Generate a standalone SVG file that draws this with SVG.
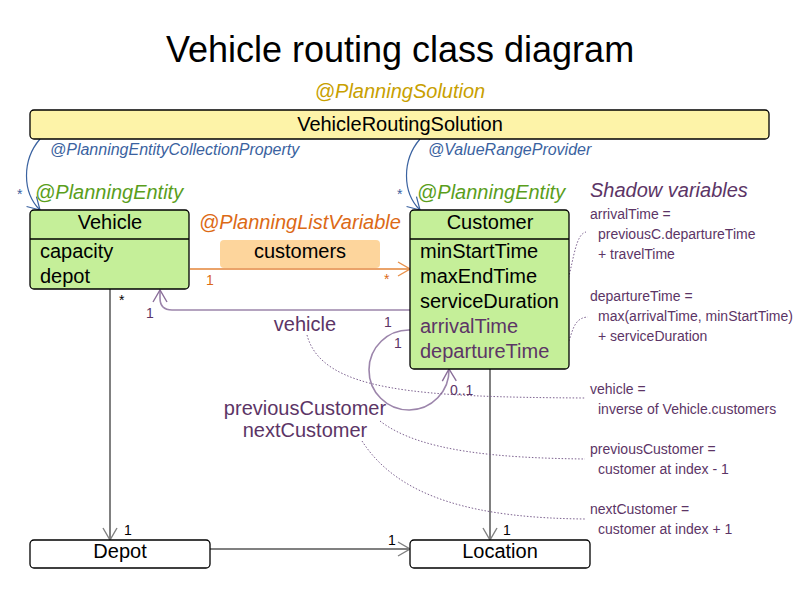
<svg xmlns="http://www.w3.org/2000/svg" width="800" height="600" viewBox="0 0 800 600">
<style>
text{font-family:"Liberation Sans",Arial,sans-serif}
.box{stroke:#000;stroke-width:1.3}
.ent{fill:#c5ef99}
.plain{fill:#fff}
.sol{fill:#fdf3a8}
.t20{font-size:20px;fill:#000}
.mid{text-anchor:middle}
.ann{font-style:italic}
.blue{fill:#3a62a0}
.green{fill:#5a9e1c}
.orange{fill:#dc6a16}
.purple{fill:#5c3566}
.sh{font-size:14px;fill:#5c3566}
.mult{font-size:14px}
.gray{stroke:#808080;stroke-width:2;fill:none}
.bl{stroke:#3a62a0;stroke-width:1.2;fill:none}
.or{stroke:#eaa36a;stroke-width:2;fill:none}
.pu{stroke:#9c85ab;stroke-width:1.6;fill:none}
.dot{stroke:#7d6290;stroke-width:1;fill:none;stroke-dasharray:1.5 1.8}
</style>
<defs>
<marker id="aGray" viewBox="0 0 14 16" refX="13" refY="8" markerWidth="14" markerHeight="16" orient="auto" markerUnits="userSpaceOnUse"><path d="M1,1 L13,8 L1,15" fill="none" stroke="#808080" stroke-width="1.4"/></marker>
<marker id="aBlue" viewBox="0 0 14 16" refX="13" refY="8" markerWidth="14" markerHeight="16" orient="auto" markerUnits="userSpaceOnUse"><path d="M1,1 L13,8 L1,15" fill="none" stroke="#3a62a0" stroke-width="1.2"/></marker>
<marker id="aOr" viewBox="0 0 14 16" refX="13" refY="8" markerWidth="14" markerHeight="16" orient="auto" markerUnits="userSpaceOnUse"><path d="M1,1 L13,8 L1,15" fill="none" stroke="#e8904a" stroke-width="1.4"/></marker>
<marker id="aPu" viewBox="0 0 14 16" refX="13" refY="8" markerWidth="14" markerHeight="16" orient="auto" markerUnits="userSpaceOnUse"><path d="M1,1 L13,8 L1,15" fill="none" stroke="#8a6e99" stroke-width="1.4"/></marker>
</defs>
<rect width="800" height="600" fill="#fff"/>
<text x="400" y="62" class="mid" style="font-size:36px;fill:#000">Vehicle routing class diagram</text>
<text x="400" y="98" class="mid ann" style="font-size:20px;fill:#c8a000">@PlanningSolution</text>

<g id="connectors">
<path class="bl" d="M40,139 C22,160 22,192 40,210" marker-end="url(#aBlue)"/>
<path class="bl" d="M420,139 C402,160 402,192 420,210" marker-end="url(#aBlue)"/>
<path class="or" d="M190,269 L410,269" marker-end="url(#aOr)"/>
<path class="pu" d="M410,310 L172,310 Q160,310 160,298 L160,290" marker-end="url(#aPu)"/>
<path class="pu" d="M410,330 A40,40 0 1 0 449,369" marker-end="url(#aPu)"/>
<path class="gray" d="M110,289 L110,540" marker-end="url(#aGray)"/>
<path class="gray" d="M490,369 L490,540" marker-end="url(#aGray)"/>
<path class="gray" d="M210,549 L410,549" marker-end="url(#aGray)"/>
<path class="dot" d="M524,328 C578,326 566,236 586,232"/>
<path class="dot" d="M555,354 C576,350 566,318 588,317"/>
<path class="dot" d="M307,335 C322,392 420,397 585,398"/>
<path class="dot" d="M380,421 C420,452 500,458 585,459"/>
<path class="dot" d="M362,441 C400,500 480,518 585,519"/>
</g>

<g id="labels">
<text x="50" y="155" class="ann blue" style="font-size:16px">@PlanningEntityCollectionProperty</text>
<text x="428" y="155" class="ann blue" style="font-size:16px">@ValueRangeProvider</text>
<text x="17" y="199" class="blue mult">*</text>
<text x="397" y="199" class="blue mult">*</text>
<text x="35" y="199" class="ann green" style="font-size:20px">@PlanningEntity</text>
<text x="417" y="199" class="ann green" style="font-size:20px">@PlanningEntity</text>
<text x="199" y="229" class="ann orange" style="font-size:20px">@PlanningListVariable</text>
<text x="206" y="285" class="orange mult">1</text>
<text x="384" y="284" class="orange mult">*</text>
<text x="119" y="305" class="mult" style="fill:#000">*</text>
<text x="146" y="318" class="purple mult">1</text>
<text x="384" y="327" class="purple mult">1</text>
<text x="394" y="348" class="purple mult">1</text>
<text x="450" y="395" class="purple mult">0..1</text>
<text x="305" y="331" class="mid purple" style="font-size:20px">vehicle</text>
<text x="305" y="415" class="mid purple" style="font-size:20px">previousCustomer</text>
<text x="305" y="437" class="mid purple" style="font-size:20px">nextCustomer</text>
<text x="124" y="535" class="mult" style="fill:#000">1</text>
<text x="503" y="535" class="mult" style="fill:#000">1</text>
<text x="388" y="545" class="mult" style="fill:#000">1</text>
</g>

<g id="shadow">
<text x="590" y="197" class="ann purple" style="font-size:20px">Shadow variables</text>
<text x="590" y="219" class="sh">arrivalTime =</text>
<text x="598" y="239" class="sh">previousC.departureTime</text>
<text x="598" y="259" class="sh">+ travelTime</text>
<text x="590" y="301" class="sh">departureTime =</text>
<text x="598" y="321" class="sh">max(arrivalTime, minStartTime)</text>
<text x="598" y="341" class="sh">+ serviceDuration</text>
<text x="590" y="394" class="sh">vehicle =</text>
<text x="598" y="414" class="sh">inverse of Vehicle.customers</text>
<text x="590" y="454" class="sh">previousCustomer =</text>
<text x="598" y="474" class="sh">customer at index - 1</text>
<text x="590" y="514" class="sh">nextCustomer =</text>
<text x="598" y="534" class="sh">customer at index + 1</text>
</g>

<g id="VehicleRoutingSolution">
<rect x="30" y="110" width="739" height="29" rx="4" class="box sol"/>
<text x="400" y="131" class="mid t20">VehicleRoutingSolution</text>
</g>

<g id="customers">
<rect x="220" y="240" width="160" height="28" rx="4" fill="#fdd59c"/>
<text x="300" y="258" class="mid t20">customers</text>
</g>

<g id="Vehicle">
<rect x="30" y="210" width="159" height="79" rx="4" class="box ent"/>
<line x1="30" y1="239" x2="189" y2="239" class="box"/>
<text x="110" y="229" class="mid t20">Vehicle</text>
<text x="40" y="258" class="t20">capacity</text>
<text x="40" y="283" class="t20">depot</text>
</g>

<g id="Customer">
<rect x="410" y="210" width="159" height="159" rx="4" class="box ent"/>
<line x1="410" y1="239" x2="569" y2="239" class="box"/>
<text x="490" y="229" class="mid t20">Customer</text>
<text x="420" y="258" class="t20">minStartTime</text>
<text x="420" y="283" class="t20">maxEndTime</text>
<text x="420" y="308" class="t20">serviceDuration</text>
<text x="420" y="333" class="t20" style="fill:#5c3566">arrivalTime</text>
<text x="420" y="358" class="t20" style="fill:#5c3566">departureTime</text>
</g>

<g id="Depot">
<rect x="30" y="540" width="180" height="28" rx="4" class="box plain"/>
<text x="120" y="558" class="mid t20">Depot</text>
</g>

<g id="Location">
<rect x="410" y="540" width="180" height="28" rx="4" class="box plain"/>
<text x="500" y="558" class="mid t20">Location</text>
</g>
</svg>
